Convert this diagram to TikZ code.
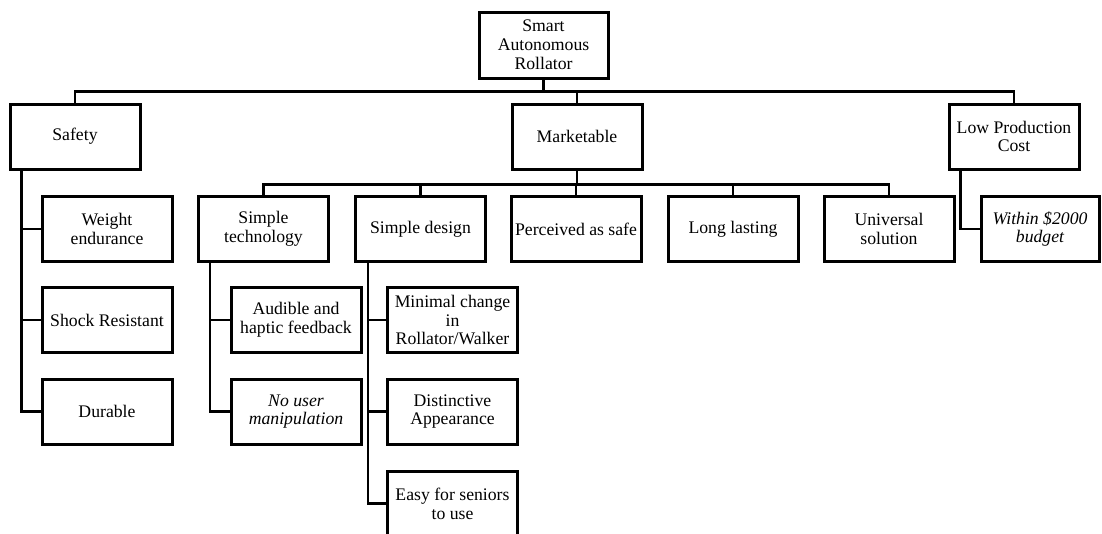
\documentclass[tikz,border=0pt]{standalone}
\usepackage{fontspec}
\setmainfont{Liberation Serif}
\begin{document}
\begin{tikzpicture}[x=1pt,y=-1pt,
  box/.style={draw, line width=3pt, minimum width=130pt, minimum height=65pt, inner sep=1pt, align=center, font=\fontsize{17.7}{18.8}\selectfont},
  ibox/.style={box, font=\fontsize{17.7}{18.8}\selectfont\itshape},
  link/.style={line width=2.8pt}]
\useasboundingbox (0,0) rectangle (1102,533);
% level 0
\node[box, minimum width=129pt, minimum height=66pt] (root) at (543.5,45) {Smart\\Autonomous\\Rollator};
% level 1
\node[box] (safety) at (75,136.5) {Safety};
\node[box] (market) at (577,136.5) {Marketable};
\node[box] (cost) at (1014,136.5) {Low Production\\Cost};
% level 2
\node[box] (weight) at (107,229) {Weight\\endurance};
\node[box] (shock) at (107,320) {Shock Resistant};
\node[box] (durable) at (107,411.5) {Durable};
\node[box] (tech) at (263.5,229) {Simple\\technology};
\node[box] (design) at (420.5,229) {Simple design};
\node[box] (safe) at (576,229) {Perceived as safe};
\node[box] (lasting) at (733,229) {Long lasting};
\node[box] (universal) at (889,229) {Universal\\solution};
\node[ibox, minimum width=118pt] (budget) at (1040,229) {Within \$2000\\budget};
% level 3
\node[box] (audible) at (296,320) {Audible and\\haptic feedback};
\node[ibox] (nouser) at (296,411.5) {No user\\manipulation};
\node[box] (minimal) at (452.5,320) {Minimal change\\in\\Rollator/Walker};
\node[box] (distinct) at (452.5,411.5) {Distinctive\\Appearance};
\node[box] (easy) at (452.5,503.5) {Easy for seniors\\to use};
% connectors
\draw[link] (root.south) -- ++(0,12) -| (safety.north);
\draw[link] (root.south) -- ++(0,12) -| (market.north);
\draw[link] (root.south) -- ++(0,12) -| (cost.north);
\foreach \c in {tech,design,safe,lasting,universal}
  \draw[link] (market.south) -- ++(0,14) -| (\c.north);
\foreach \c in {weight,shock,durable}
  \draw[link] ([xshift=13pt]safety.south west) |- (\c.west);
\draw[link] ([xshift=13pt]cost.south west) |- (budget.west);
\foreach \c in {audible,nouser}
  \draw[link] ([xshift=13pt]tech.south west) |- (\c.west);
\foreach \c in {minimal,distinct,easy}
  \draw[link] ([xshift=14pt]design.south west) |- (\c.west);
\end{tikzpicture}
\end{document}
